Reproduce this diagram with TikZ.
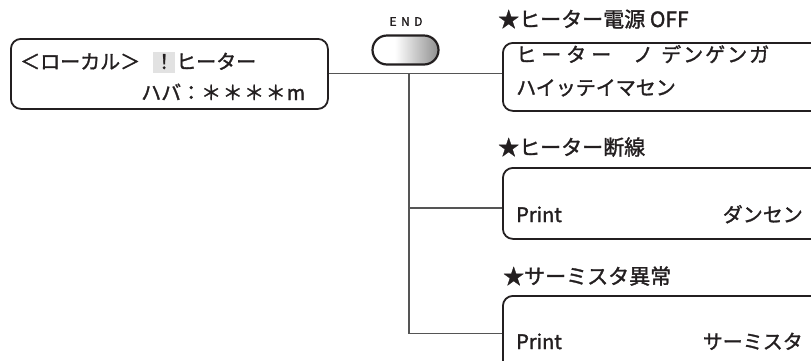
\documentclass[tikz,border=0pt]{standalone}
\usepackage{fontspec}
\setmainfont{Noto Sans CJK JP}[FakeBold=1.5]
\definecolor{ink}{HTML}{231F20}
\definecolor{wire}{HTML}{555555}
\definecolor{hil}{HTML}{E2E2E2}
\pgfdeclarehorizontalshading{endbtn}{100bp}{color(0bp)=(white); color(42bp)=(white); color(72bp)=(black!40); color(100bp)=(black!82)}
\begin{document}
\begin{tikzpicture}[x=1pt,y=-1pt,
  lcdbox/.style={draw=ink, line width=1.8pt, rounded corners=10pt, anchor=north west, inner sep=0pt},
  wireline/.style={draw=wire, line width=1.1pt},
  txt/.style={inner sep=0pt, text=ink, font=\fontsize{20}{23}\selectfont},
  ttl/.style={txt, anchor=base west},
  hdr/.style={ttl, font=\fontsize{21}{24}\selectfont}]
\useasboundingbox (0,0) rectangle (811,360);
\clip (0,0) rectangle (811,360);
% boxes
\node[lcdbox, minimum width=317pt, minimum height=70pt] (lbox) at (10,38) {};
\node[lcdbox, minimum width=340pt, minimum height=68pt] (box1) at (502,42) {};
\node[lcdbox, minimum width=340pt, minimum height=71pt] (box2) at (502,167) {};
\node[lcdbox, minimum width=340pt, minimum height=76pt] (box3) at (502,295) {};
% END button
\node[txt, font=\fontsize{12}{14}\selectfont] (endlbl) at (406,21.5) {E\kern4.5pt N\kern4.5pt D};
\node[draw=ink, line width=2.2pt, rounded corners=14.5pt, shading=endbtn, minimum width=66pt, minimum height=29pt, inner sep=0pt] (endbtn) at (405.5,50) {};
% connectors
\coordinate (j) at (409,72);
\coordinate (b2) at (502,208);
\draw[wireline] (lbox.east) -- (lbox.east -| box1.west);
\draw[wireline] (lbox.east -| j) |- (box3.west);
\draw[wireline] (j |- b2) -- (b2);
% left box text
\fill[hil] (153,52) rectangle (175,73);
\node[ttl] (l1a) at (20,69) {＜ローカル＞};
\node[ttl] (l1b) at (154,69) {！};
\node[ttl] (l1c) at (176,69) {ヒーター};
\node[ttl] (l2) at (141,100) {ハバ：＊\kern1.5pt＊\kern1.5pt＊\kern1.5pt＊\kern1pt m};
% titles
\node[hdr] (t1) at (498,27) {★ヒーター電源 OFF};
\node[hdr] (t2) at (498,155) {★ヒーター断線};
\node[hdr] (t3) at (503,284) {★サーミスタ異常};
% box1 text
\node[ttl] (b1a) at (516,62) {ヒ\kern5ptー\kern5ptタ\kern5ptー\hspace{22pt}ノ\hspace{8pt}デ\kern2ptン\kern2ptゲ\kern2ptン\kern2ptガ};
\node[ttl] (b1b) at (516,95) {ハイッテイマセン};
% box2 / box3 text
\node[ttl] (b2a) at (516,222) {Print};
\node[txt, anchor=base east] (b2b) at (803,222) {ダンセン};
\node[ttl] (b3a) at (516,349) {Print};
\node[txt, anchor=base east] (b3b) at (803,349) {サーミスタ};
\end{tikzpicture}
\end{document}
